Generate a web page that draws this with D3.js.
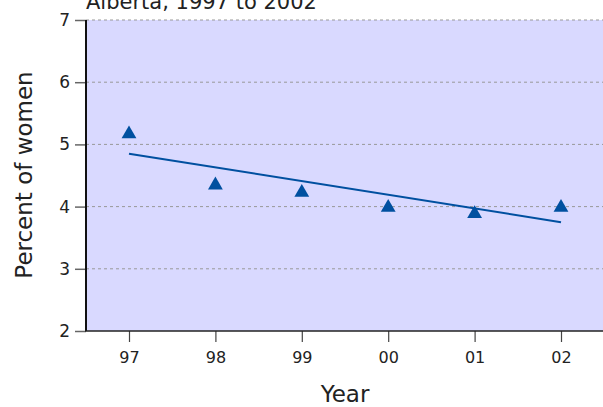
<!DOCTYPE html>
<html><head><meta charset="utf-8">
<script src="https://cdn.jsdelivr.net/npm/d3@7"></script>
<style>html,body{margin:0;padding:0;background:#fff;overflow:hidden}</style>
</head><body>
<svg id="chart" width="603" height="407"></svg>
<script>
const title = "Alberta, 1997 to 2002";
const years = ["97", "98", "99", "00", "01", "02"];
const percentWomen = [5.2, 4.38, 4.26, 4.02, 3.92, 4.02];
const trendYears = ["97", "02"];
const trendValues = [4.85, 3.75];
const yTicks = [2, 3, 4, 5, 6, 7];

const svg = d3.select("#chart");
const m = {left: 86, top: 20, bottom: 331};
const x = d3.scalePoint().domain(years).range([129, 561]);
const y = d3.scaleLinear().domain([2, 7]).range([m.bottom, m.top]);
const font = "Verdana, 'DejaVu Sans', sans-serif";

svg.append("rect").attr("x", m.left).attr("y", m.top)
  .attr("width", 603 - m.left + 5).attr("height", m.bottom - m.top)
  .attr("fill", "#d9d9ff");

// gridlines
svg.append("g").selectAll("line").data(yTicks.filter(d => d > 2)).join("line")
  .attr("x1", m.left).attr("x2", 603).attr("y1", d => y(d)).attr("y2", d => y(d))
  .attr("stroke", "#999").attr("stroke-width", 1).attr("stroke-dasharray", "3,3");

// y axis
const yAxis = svg.append("g").attr("transform", `translate(${m.left},0)`)
  .call(d3.axisLeft(y).tickValues(yTicks).tickSize(11).tickPadding(5).tickFormat(d3.format("d")));
yAxis.select(".domain").remove();
yAxis.selectAll(".tick line").attr("stroke", "#666").attr("stroke-width", 1.5);
yAxis.selectAll("text").attr("font-family", font).attr("font-size", 17).attr("fill", "#222");
svg.append("line").attr("x1", m.left).attr("x2", m.left).attr("y1", m.top).attr("y2", m.bottom)
  .attr("stroke", "#111").attr("stroke-width", 2);

// x axis
const xAxis = svg.append("g").attr("transform", `translate(0,${m.bottom})`)
  .call(d3.axisBottom(x).tickSize(11).tickPadding(10));
xAxis.select(".domain").remove();
xAxis.selectAll(".tick line").attr("stroke", "#444").attr("stroke-width", 1.2);
xAxis.selectAll("text").attr("font-family", font).attr("font-size", 16).attr("fill", "#222");
svg.append("line").attr("x1", m.left - 1).attr("x2", 603).attr("y1", m.bottom).attr("y2", m.bottom)
  .attr("stroke", "#222").attr("stroke-width", 1.5);

// trend line
svg.append("path")
  .datum(trendYears.map((t, i) => [t, trendValues[i]]))
  .attr("d", d3.line().x(d => x(d[0])).y(d => y(d[1])))
  .attr("fill", "none").attr("stroke", "#0050a0").attr("stroke-width", 2);

// markers (centred on their bounding box)
const triArea = 95;
const triSide = Math.sqrt(4 * triArea / Math.sqrt(3));
const triH = triSide * Math.sqrt(3) / 2;
svg.append("g").selectAll("path").data(years.map((t, i) => [t, percentWomen[i]])).join("path")
  .attr("transform", d => `translate(${x(d[0])},${y(d[1]) + triH / 6})`)
  .attr("d", d3.symbol(d3.symbolTriangle, triArea))
  .attr("fill", "#0050a0");

// title
svg.append("text").attr("x", m.left).attr("y", 9).text(title)
  .attr("font-family", font).attr("font-size", 21).attr("fill", "#222");

// axis titles
svg.append("text").attr("x", 345).attr("y", 402).attr("text-anchor", "middle").text("Year")
  .attr("font-family", font).attr("font-size", 23).attr("fill", "#222");
svg.append("text").attr("transform", "translate(32,175) rotate(-90)").attr("text-anchor", "middle")
  .text("Percent of women")
  .attr("font-family", font).attr("font-size", 23).attr("fill", "#222");
</script>
</body></html>
